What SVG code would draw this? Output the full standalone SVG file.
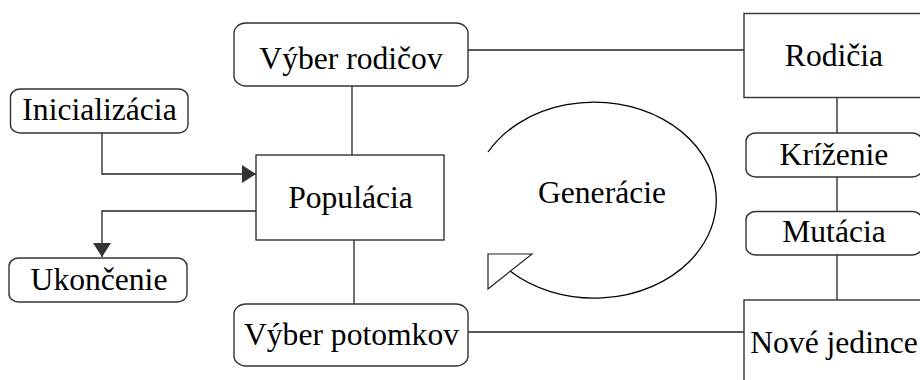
<svg xmlns="http://www.w3.org/2000/svg" width="920" height="380" viewBox="0 0 920 380">
<style>
.box{fill:#fff;stroke:#333;stroke-width:1.4}
.t{font-family:'Liberation Serif','Times New Roman','DejaVu Serif',Times,serif;font-size:31.6px;fill:#000;text-anchor:middle}
.c{fill:none;stroke:#222;stroke-width:1.3}
</style>
<defs>
<marker id="ah" viewBox="0 0 14 18" refX="14" refY="9" markerWidth="14" markerHeight="18" markerUnits="userSpaceOnUse" orient="auto">
<path d="M0,0 L14,9 L0,18 Z" fill="#333"/>
</marker>
</defs>
<rect width="920" height="380" fill="#fff"/>
<g id="connectors">
<line class="c" x1="468" y1="50" x2="744" y2="50"/>
<line class="c" x1="352" y1="86" x2="352" y2="155"/>
<polyline class="c" points="102,133 102,174 256,174" marker-end="url(#ah)"/>
<polyline class="c" points="256,211 102,211 102,257" marker-end="url(#ah)"/>
<line class="c" x1="354" y1="240" x2="354" y2="304"/>
<line class="c" x1="468" y1="332" x2="744" y2="332"/>
<line class="c" x1="837" y1="98" x2="837" y2="133"/>
<line class="c" x1="837" y1="177" x2="837" y2="212"/>
<line class="c" x1="837" y1="255" x2="837" y2="300"/>
</g>
<g id="cycle">
<path d="M488,152 A122,98 0 1 1 510,271" fill="none" stroke="#000" stroke-width="1.3"/>
<polygon points="488,254 532,254 488,289" fill="#fff" stroke="#222" stroke-width="1.2"/>
<text class="t" x="602" y="203" font-family="Liberation Serif, serif">Generácie</text>
</g>
<g id="vyber-rodicov">
<rect class="box" x="234" y="23" width="234" height="63" rx="12" ry="10"/>
<text class="t" x="351" y="69">Výber rodičov</text>
</g>
<g id="inicializacia">
<rect class="box" x="10.5" y="89" width="177.5" height="44" rx="10" ry="8"/>
<text class="t" x="99.5" y="120">Inicializácia</text>
</g>
<g id="populacia">
<rect class="box" x="256" y="155" width="188" height="85"/>
<text class="t" x="350.5" y="208">Populácia</text>
</g>
<g id="ukoncenie">
<rect class="box" x="9" y="258" width="178" height="44" rx="10" ry="8"/>
<text class="t" x="99" y="290">Ukončenie</text>
</g>
<g id="vyber-potomkov">
<rect class="box" x="234" y="304" width="234" height="62" rx="12" ry="10"/>
<text class="t" x="351.5" y="345">Výber potomkov</text>
</g>
<g id="rodicia">
<rect class="box" x="744" y="13.5" width="190" height="84"/>
<text class="t" x="834" y="66">Rodičia</text>
</g>
<g id="krizenie">
<rect class="box" x="746" y="133" width="176" height="44" rx="10" ry="8"/>
<text class="t" x="834" y="165">Kríženie</text>
</g>
<g id="mutacia">
<rect class="box" x="746" y="211.5" width="176" height="43.5" rx="10" ry="8"/>
<text class="t" x="834" y="242">Mutácia</text>
</g>
<g id="nove-jedince">
<rect class="box" x="744" y="300" width="190" height="100"/>
<text class="t" x="834" y="353">Nové jedince</text>
</g>
</svg>
